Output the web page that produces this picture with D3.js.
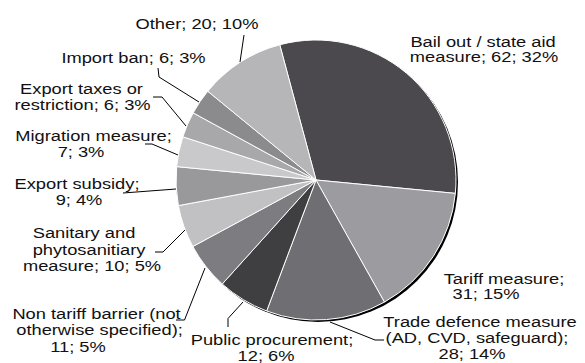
<!DOCTYPE html>
<html>
<head>
<meta charset="utf-8">
<script src="https://cdn.jsdelivr.net/npm/d3@7"></script>
<style>
  html, body { margin: 0; padding: 0; background: #fff; }
  svg { display: block; }
  text { font-family: "Liberation Sans", Arial, Helvetica, sans-serif; font-size: 15.5px; fill: #111; }
</style>
</head>
<body>
<svg id="chart" width="585" height="363"></svg>
<script>
// Measures, clockwise from the top
const categories = [
  "Bail out / state aid measure",
  "Tariff measure",
  "Trade defence measure (AD, CVD, safeguard)",
  "Public procurement",
  "Non tariff barrier (not otherwise specified)",
  "Sanitary and phytosanitiary measure",
  "Export subsidy",
  "Migration measure",
  "Export taxes or restriction",
  "Import ban",
  "Other"
];
const counts = [62, 31, 28, 12, 11, 10, 9, 7, 6, 6, 20];
const percents = [32, 15, 14, 6, 5, 5, 4, 3, 3, 3, 10];

// Label text, already broken into lines
const labelLines = [
  ["Bail out / state aid", "measure; 62; 32%"],
  ["Tariff measure;", "31; 15%"],
  ["Trade defence measure", "(AD, CVD, safeguard);", "28; 14%"],
  ["Public procurement;", "12; 6%"],
  ["Non tariff barrier (not", "otherwise specified);", "11; 5%"],
  ["Sanitary and", "phytosanitiary", "measure; 10; 5%"],
  ["Export subsidy;", "9; 4%"],
  ["Migration measure;", "7; 3%"],
  ["Export taxes or", "restriction; 6; 3%"],
  ["Import ban; 6; 3%"],
  ["Other; 20; 10%"]
];

const fills = ["#4b494d", "#9c9ba0", "#6f6e73", "#3f3e41", "#7d7c80", "#c1c1c3",
               "#99999b", "#c9c9cb", "#a8a8aa", "#8b8b8d", "#b6b6b8"];

// Label placement: centre x and baseline y of each line
const labelPos = [
  [[483, 47], [484, 62]],
  [[504, 283.5], [486, 298.5]],
  [[480, 327], [477, 343], [472, 358.5]],
  [[272, 345], [266, 361]],
  [[96.5, 318.5], [99.5, 335], [78, 351.5]],
  [[84, 238], [89, 254.5], [92, 271]],
  [[77, 188.5], [79, 205]],
  [[93.5, 141], [81, 157]],
  [[81.5, 94], [82.5, 109.5]],
  [[133.5, 63]],
  [[197, 29]]
];

// Leader lines (polyline points from label to slice edge)
const leaders = [
  null,
  null,
  [[384, 340], [375, 340], [330, 322]],
  [[228, 327], [228, 318.5], [243, 302]],
  [[176, 320], [184.5, 320], [205, 268]],
  [[155, 252], [163, 252], [185, 230]],
  [[123, 193], [176, 189]],
  [[145, 144], [152, 144], [178, 155]],
  [[153, 97], [162, 97], [186, 126]],
  [[158, 68], [159, 77], [199, 102]],
  [[244, 35], [240, 62]]
];

const cx = 316, cy = 180, radius = 140;
const textScale = 1.18;

const svg = d3.select("#chart");

const pie = d3.pie()
  .sort(null)
  .value(d => d)
  .startAngle(-15 * Math.PI / 180)
  .endAngle(345 * Math.PI / 180);

const arc = d3.arc().innerRadius(0).outerRadius(radius);
const arcs = pie(counts);

// Drop shadow under the pie
svg.append("circle")
  .attr("cx", cx + 2)
  .attr("cy", cy + 2)
  .attr("r", radius)
  .attr("fill", "#000");

const g = svg.append("g").attr("transform", `translate(${cx},${cy})`);
g.selectAll("path.slice")
  .data(arcs)
  .join("path")
  .attr("class", "slice")
  .attr("d", arc)
  .attr("fill", (d, i) => fills[i])
  .attr("stroke", "#fff")
  .attr("stroke-width", 1)
  .attr("stroke-linejoin", "round");

// Leader lines
const line = d3.line();
svg.selectAll("path.leader")
  .data(leaders.filter(d => d))
  .join("path")
  .attr("class", "leader")
  .attr("d", d => line(d))
  .attr("fill", "none")
  .attr("stroke", "#000")
  .attr("stroke-width", 1);

// Data labels
labelLines.forEach((lines, i) => {
  lines.forEach((t, j) => {
    const [x, y] = labelPos[i][j];
    svg.append("text")
      .attr("transform", `translate(${x},${y}) scale(${textScale},1)`)
      .attr("text-anchor", "middle")
      .text(t);
  });
});
</script>
</body>
</html>
